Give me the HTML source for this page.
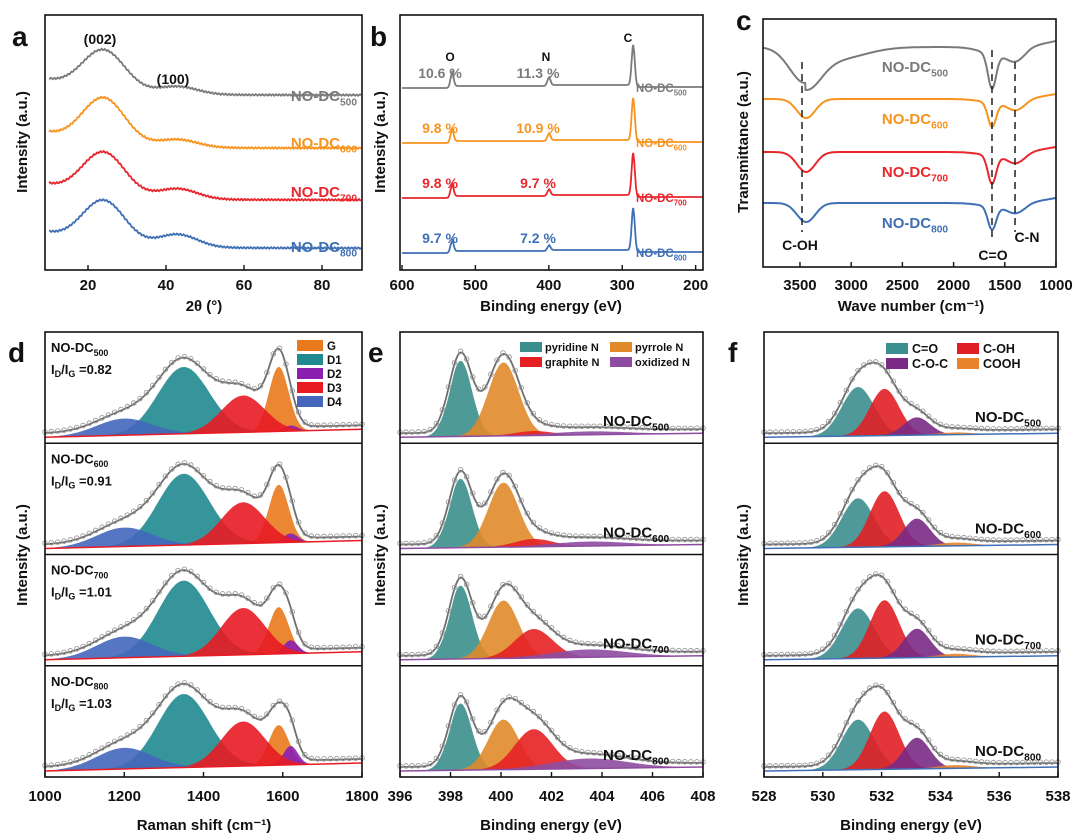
<!DOCTYPE html>
<html><head><meta charset="utf-8">
<style>
html,body{margin:0;padding:0;background:#fff;}
svg{display:block;font-family:"Liberation Sans",Arial,sans-serif;}
</style></head>
<body>
<svg id="fig" width="1080" height="837" viewBox="0 0 1080 837" xmlns="http://www.w3.org/2000/svg"></svg>
<script>
// ---------- DATA ----------
const samples = ["500","600","700","800"];
const sampleColors = ["#7a7a7a","#f7931e","#e8262b","#3f6fb5"];
// a: XRD
const xrdOffsets = [68.6, 47.8, 27.5, 8.6];
const xrdAmp002 = [16, 18, 17, 17];
const xrdAmp100 = [3, 3, 4, 5];
const xrdTicks = [20,40,60,80];
// b: XPS survey
const surveyO = ["10.6 %","9.8 %","9.8 %","9.7 %"];
const surveyN = ["11.3 %","10.9 %","9.7 %","7.2 %"];
const surveyBase = [88, 143, 198, 253];
const surveyCHeight = [40, 42, 42, 42];
const surveyOHeight = [14, 12, 12, 11];
const surveyNHeight = [8, 7, 6, 5];
const surveyTicks = [600,500,400,300,200];
// c: FTIR
const ftirLevel = [47, 99, 152, 203];
const ftirOH = [36, 19, 20, 19];
const ftirCO = [34, 24, 28, 23];
const ftirCN = [10, 9, 9, 8];
const ftirTicks = [3500,3000,2500,2000,1500,1000];
// d: Raman fit (G, D1, D2, D3, D4)
const ramanNames = ["G","D1","D2","D3","D4"];
const ramanCenters = [1590,1350,1620,1500,1200];
const ramanSigmas = [25,65,18,55,70];
const ramanH500 = [0.58,0.60,0.05,0.33,0.15];
const ramanH600 = [0.52,0.64,0.08,0.37,0.17];
const ramanH700 = [0.42,0.68,0.12,0.42,0.19];
const ramanH800 = [0.36,0.66,0.17,0.40,0.19];
const ramanRatio = ["0.82","0.91","1.01","1.03"];
const ramanTicks = [1000,1200,1400,1600,1800];
// e: N1s (pyridine, pyrrole, graphite, oxidized)
const nNames = ["pyridine N","pyrrole N","graphite N","oxidized N"];
const nCenters = [398.4,400.1,401.3,403.5];
const nSigmas = [0.45,0.6,0.75,1.5];
const nH500 = [0.68,0.66,0.04,0.03];
const nH600 = [0.62,0.58,0.07,0.04];
const nH700 = [0.66,0.52,0.26,0.07];
const nH800 = [0.60,0.45,0.36,0.09];
const nTicks = [396,398,400,402,404,406,408];
// f: O1s (C=O, C-OH, C-O-C, COOH)
const oNames = ["C=O","C-OH","C-O-C","COOH"];
const oCenters = [531.2,532.1,533.2,534.5];
const oSigmas = [0.55,0.5,0.45,0.6];
const oH500 = [0.44,0.42,0.16,0.02];
const oH600 = [0.44,0.50,0.25,0.03];
const oH700 = [0.45,0.52,0.26,0.03];
const oH800 = [0.45,0.52,0.28,0.03];
const oTicks = [528,530,532,534,536,538];

// ---------- HELPERS ----------
const NS="http://www.w3.org/2000/svg";
const svg=document.getElementById('fig');
function mk(tag,attrs,parent){const e=document.createElementNS(NS,tag);for(const k in attrs)e.setAttribute(k,attrs[k]);(parent||svg).appendChild(e);return e;}
function txt(x,y,s,o,parent){const t=mk('text',Object.assign({x:x,y:y,'font-size':13,'font-weight':'bold',fill:'#111'},o||{}),parent);t.textContent=s;return t;}
function lin(a,b,A,B){return v=>A+(v-a)/(b-a)*(B-A);}
function g(x,c,s,a){return a*Math.exp(-(x-c)*(x-c)/(2*s*s));}
function sampleLabel(x,y,suffix,color,size,anchor){
  const t=mk('text',{x:x,y:y,'font-size':size,'font-weight':'bold',fill:color,'text-anchor':anchor||'start'});
  
  
  t.appendChild(document.createTextNode('NO-DC'));
  const s=document.createElementNS(NS,'tspan');s.setAttribute('font-size',size*0.68);s.setAttribute('dy',size*0.3);s.textContent=suffix;t.appendChild(s);
  return t;
}
function axesBox(name,x0,y0,x1,y1,sx,ticks,tickY){
  const r=mk('rect',{x:x0,y:y0,width:x1-x0,height:y1-y0,fill:'none',stroke:'#111','stroke-width':1.6});
  
  
  ticks.forEach(v=>{
    const X=sx(v);
    mk('line',{x1:X,x2:X,y1:y1,y2:y1-5,stroke:'#111','stroke-width':1.4});
    const t=txt(X,tickY,String(v),{'font-size':15,'text-anchor':'middle'});
    
    
  });
}
function yTitle(x,y,s,name){const t=txt(x,y,s,{'font-size':15,'text-anchor':'middle',transform:`rotate(-90 ${x} ${y})`});}
function xTitle(x,y,s,name){const t=txt(x,y,s,{'font-size':15,'text-anchor':'middle'});return t;}
function letter(x,y,s){const t=txt(x,y,s,{'font-size':28});}
function pathFrom(pts){return pts.map((p,i)=>(i?'L':'M')+p[0].toFixed(1)+' '+p[1].toFixed(1)).join(' ');}

// ---------- PANEL A ----------
(function(){
  const x0=45,x1=362,y0=15,y1=270;
  const sx=lin(10,90,49,361), sy=lin(0,100,270,15);
  samples.forEach((s,i)=>{
    const pts=[];
    for(let v=10;v<=90;v+=0.25){
      const y=xrdOffsets[i]+g(v,24,5.5,xrdAmp002[i])+g(v,43,5,xrdAmp100[i])+6*Math.exp(-(v-10)/12)+0.3*Math.sin(v*7.3+i);
      pts.push([sx(v),sy(y)]);
    }
    const p=mk('path',{d:pathFrom(pts),fill:'none',stroke:sampleColors[i],'stroke-width':1.8});
    
    
  });
  axesBox('xrd',x0,y0,x1,y1,sx,xrdTicks,290);
  txt(100,44,'(002)',{'font-size':14,'text-anchor':'middle'});
  txt(173,84,'(100)',{'font-size':14,'text-anchor':'middle'});
  const ly=[101,148,197,252];
  samples.forEach((s,i)=>sampleLabel(357,ly[i],s,sampleColors[i],15,'end'));
  yTitle(27,142,'Intensity (a.u.)','xrd-y-axis-title');
  xTitle(204,311,'2θ (°)','xrd-x-axis-title');
  letter(12,46,'a');
})();

// ---------- PANEL B ----------
(function(){
  const x0=400,x1=703,y0=15,y1=270;
  const sx=lin(600,190,402,703);
  samples.forEach((s,i)=>{
    const pts=[];
    for(let v=600;v>=190;v-=0.5){
      let y=surveyBase[i]+ (v<532? -2:0) + (v<400?-1:0) + (v<285?2:0);
      y-=g(v,532,2.2,surveyOHeight[i])+g(v,400,2.2,surveyNHeight[i])+g(v,285,2.2,surveyCHeight[i]);
      pts.push([sx(v),y]);
    }
    const p=mk('path',{d:pathFrom(pts),fill:'none',stroke:sampleColors[i],'stroke-width':1.8});
    
    
    const a=txt(440,surveyBase[i]-10,surveyO[i],{'font-size':14,fill:sampleColors[i],'text-anchor':'middle'});
    
    const b=txt(538,surveyBase[i]-10,surveyN[i],{'font-size':14,fill:sampleColors[i],'text-anchor':'middle'});
    
    sampleLabel(636,surveyBase[i]+4,s,sampleColors[i],11.5);
  });
  axesBox('survey',x0,y0,x1,y1,sx,surveyTicks,290);
  txt(450,61,'O',{'font-size':12,'text-anchor':'middle'});
  txt(546,61,'N',{'font-size':12,'text-anchor':'middle'});
  txt(628,42,'C',{'font-size':12,'text-anchor':'middle'});
  yTitle(385,142,'Intensity (a.u.)','survey-y-axis-title');
  xTitle(551,311,'Binding energy (eV)','survey-x-axis-title');
  letter(370,46,'b');
})();

// ---------- PANEL C ----------
(function(){
  const x0=763,x1=1056,y0=19,y1=267;
  const sx=lin(3861,1000,763,1056);
  samples.forEach((s,i)=>{
    const pts=[];
    for(let v=3860;v>=1000;v-=5){
      let y=ftirLevel[i];
      if(i===0){ y+=g(v,3450,150,ftirOH[i]); y+=g(v,3150,280,12)*(v<3450?1:0);} else y+=g(v,3440,90,ftirOH[i]);
      y+=g(v,1625,40,ftirCO[i])+g(v,1390,80,ftirCN[i])+g(v,1560,160,i===0?8:4);
      if(v<1300) y-=(1300-v)/300*(i===0?6:5);
      pts.push([sx(v),y]);
    }
    const p=mk('path',{d:pathFrom(pts),fill:'none',stroke:sampleColors[i],'stroke-width':2});
    
    
    sampleLabel(915,ftirLevel[i]+25,s,sampleColors[i],15,'middle');
  });
  [3480,1625,1400].forEach((v,k)=>{
    const l=mk('line',{x1:sx(v),x2:sx(v),y1:[62,50,62][k],y2:[232,240,232][k],stroke:'#222','stroke-width':1.5,'stroke-dasharray':'7 5'});
    
    
  });
  txt(800,250,'C-OH',{'font-size':14,'text-anchor':'middle'});
  txt(993,260,'C=O',{'font-size':14,'text-anchor':'middle'});
  txt(1027,242,'C-N',{'font-size':14,'text-anchor':'middle'});
  axesBox('ftir',x0,y0,x1,y1,sx,ftirTicks,290);
  yTitle(748,142,'Transmittance (a.u.)','ftir-y-axis-title');
  xTitle(911,311,'Wave number (cm⁻¹)','ftir-x-axis-title');
  letter(736,30,'c');
})();

// ---------- FIT PANELS ----------
function fitPanel(name,x0,x1,y0,y1,xmin,xmax,centers,sigmas,heights,colors,step,baseRise,baseColor){
  const sx=lin(xmin,xmax,x0,x1);
  const H=(y1-y0)/4;
  for(let r=0;r<4;r++){
    const top=y0+r*H, bot=top+H-6;
    const base=v=>bot-(v-xmin)/(xmax-xmin)*baseRise;
    centers.forEach((c0,k)=>{
      const pts=[];
      for(let v=xmin;v<=xmax+1e-9;v+=step){pts.push([sx(v),base(v)-g(v,centers[k],sigmas[k],heights[r][k])*H]);}
      for(let v=xmax;v>=xmin-1e-9;v-=step){pts.push([sx(v),base(v)]);}
      const p=mk('path',{d:pathFrom(pts)+'Z',fill:colors[k],'fill-opacity':0.9,stroke:'none'});
      
      
    });
    const bl=mk('line',{x1:x0,x2:x1,y1:base(xmin),y2:base(xmax),stroke:baseColor,'stroke-width':1.5});
    
    
    const env=[];
    for(let v=xmin;v<=xmax+1e-9;v+=step){
      let sum=0;centers.forEach((c,k)=>sum+=g(v,c,sigmas[k],heights[r][k]));
      env.push([sx(v),base(v)-sum*H*1.04-4]);
    }
    mk('path',{d:pathFrom(env),fill:'none',stroke:'#fff','stroke-width':4});
    const e2=mk('path',{d:pathFrom(env),fill:'none',stroke:'#6e6e6e','stroke-width':1.8});
    
    
    for(let i=0;i<env.length;i+=Math.max(1,Math.round(env.length/45))){
      mk('circle',{cx:env[i][0],cy:env[i][1]-1,r:2.3,fill:'none',stroke:'#999','stroke-width':0.9});
    }
    if(r>0){mk('line',{x1:x0,x2:x1,y1:top,y2:top,stroke:'#111','stroke-width':1.4});}
  }
  return sx;
}

// ---------- PANEL D ----------
(function(){
  const x0=45,x1=362,y0=332,y1=777;
  const colors=["#e9791d","#1f8a8f","#8a1fb0","#e81b23","#4466bb"];
  const sx=fitPanel('raman',x0,x1,y0,y1,1000,1800,ramanCenters,ramanSigmas,[ramanH500,ramanH600,ramanH700,ramanH800],colors,4,8,'#e81b23');
  axesBox('raman',x0,y0,x1,y1,sx,ramanTicks,801);
  const H=(y1-y0)/4;
  samples.forEach((s,r)=>{
    sampleLabel(51,y0+r*H+20,s,'#111',13);
    const t=mk('text',{x:51,y:y0+r*H+42,'font-size':13,'font-weight':'bold',fill:'#111'});
    
    
    t.innerHTML='I<tspan font-size="9" dy="3">D</tspan><tspan dy="-3">/I</tspan><tspan font-size="9" dy="3">G</tspan><tspan dy="-3"> =</tspan>'+ramanRatio[r];
  });
  ramanNames.forEach((n,k)=>{
    mk('rect',{x:297,y:340+k*14,width:26,height:11,fill:colors[k]});
    const t=txt(327,350+k*14,n,{'font-size':11.5});
    
  });
  yTitle(27,555,'Intensity (a.u.)','raman-y-axis-title');
  xTitle(204,830,'Raman shift (cm⁻¹)','raman-x-axis-title');
  letter(8,362,'d');
})();

// ---------- PANEL E ----------
(function(){
  const x0=400,x1=703,y0=332,y1=777;
  const colors=["#3a8f8c","#e08a2a","#e52024","#8e4ca0"];
  const sx=fitPanel('n1s',x0,x1,y0,y1,396,408,nCenters,nSigmas,[nH500,nH600,nH700,nH800],colors,0.06,4,'#8e4ca0');
  axesBox('n1s',x0,y0,x1,y1,sx,nTicks,801);
  const H=(y1-y0)/4;
  samples.forEach((s,r)=>sampleLabel(603,y0+r*H+94,s,'#111',15));
  const lp=[[520,342],[610,342],[520,357],[610,357]];
  nNames.forEach((n,k)=>{
    mk('rect',{x:lp[k][0],y:lp[k][1],width:22,height:10,fill:colors[k]});
    const t=txt(lp[k][0]+25,lp[k][1]+9,n,{'font-size':11});
    
  });
  yTitle(385,555,'Intensity (a.u.)','n1s-y-axis-title');
  xTitle(551,830,'Binding energy (eV)','n1s-x-axis-title');
  letter(368,362,'e');
})();

// ---------- PANEL F ----------
(function(){
  const x0=764,x1=1058,y0=332,y1=777;
  const colors=["#3d8e8f","#e01f25","#7a2a85","#e8832a"];
  const sx=fitPanel('o1s',x0,x1,y0,y1,528,538,oCenters,oSigmas,[oH500,oH600,oH700,oH800],colors,0.05,4,'#3f6fb5');
  axesBox('o1s',x0,y0,x1,y1,sx,oTicks,801);
  const H=(y1-y0)/4;
  samples.forEach((s,r)=>sampleLabel(975,y0+r*H+90,s,'#111',15));
  const lp=[[886,343],[957,343],[886,358],[957,358]];
  oNames.forEach((n,k)=>{
    mk('rect',{x:lp[k][0],y:lp[k][1],width:22,height:11,fill:colors[k]});
    const t=txt(lp[k][0]+26,lp[k][1]+10,n,{'font-size':12.5});
    
  });
  yTitle(748,555,'Intensity (a.u.)','o1s-y-axis-title');
  xTitle(911,830,'Binding energy (eV)','o1s-x-axis-title');
  letter(728,362,'f');
})();
</script>
</body></html>
